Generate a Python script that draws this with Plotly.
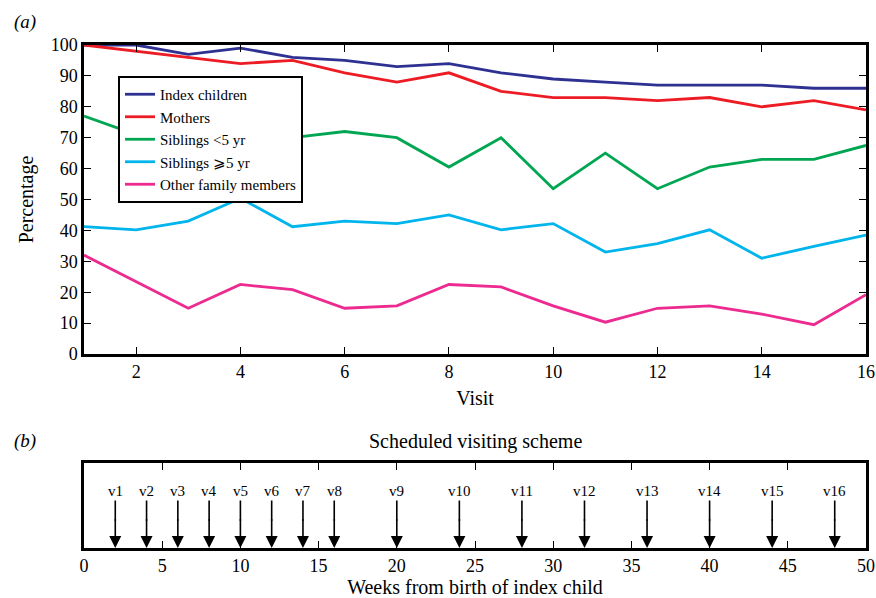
import plotly.graph_objects as go

visits = list(range(1, 17))
index_children = [100, 100, 97, 99, 96, 95, 93, 94, 91, 89, 88, 87, 87, 87, 86, 86]
mothers = [100, 98, 96, 94, 95, 91, 88, 91, 85, 83, 83, 82, 83, 80, 82, 79]
siblings_lt5 = [77, 71, 67, 70, 70, 72, 70, 60.5, 70, 53.5, 65, 53.5, 60.5, 63, 63, 67.5]
siblings_ge5 = [41.2, 40.2, 43, 50.4, 41.2, 43, 42.2, 45, 40.2, 42.2, 33, 35.7, 40.2, 31, 34.8, 38.5]
other_family = [32, 23.4, 14.8, 22.5, 20.8, 14.8, 15.6, 22.5, 21.7, 15.6, 10.3, 14.8, 15.6, 12.9, 9.5, 19.2]

series_names = ["Index children", "Mothers", "Siblings <5 yr", "Siblings \u2a7e5 yr", "Other family members"]
series_values = [index_children, mothers, siblings_lt5, siblings_ge5, other_family]
series_colors = ["#2e3192", "#ed1c24", "#00a651", "#00b4ec", "#ec2a8f"]

visit_labels = ["v%d" % i for i in range(1, 17)]
visit_weeks = [2, 4, 6, 8, 10, 12, 14, 16, 20, 24, 28, 32, 36, 40, 44, 48]

FONT = "Times New Roman, Liberation Serif, Times, serif"
W, H = 876, 598

fig = go.Figure()
for name, vals, col in zip(series_names, series_values, series_colors):
    fig.add_trace(go.Scatter(x=visits, y=vals, mode="lines", name=name,
                             line=dict(color=col, width=2.8), xaxis="x", yaxis="y"))

# small markers in panel b
fig.add_trace(go.Scatter(x=visit_weeks, y=[0.33] * len(visit_weeks), mode="markers",
                         marker=dict(color="#2e3192", size=2), showlegend=False,
                         xaxis="x2", yaxis="y2", hoverinfo="skip"))

for lab, wk in zip(visit_labels, visit_weeks):
    fig.add_annotation(x=wk, y=0, ax=wk, ay=0.67, xref="x2", yref="y2",
                       axref="x2", ayref="y2", text=lab, showarrow=True,
                       arrowhead=2, arrowsize=1.5, arrowwidth=1.6, arrowcolor="black",
                       font=dict(family=FONT, size=15, color="black"), standoff=0,
                       startstandoff=0)

def px(x):
    return x / W

def py(y):
    return 1 - y / H

axis_common = dict(showline=True, linecolor="black", linewidth=2.5, mirror="ticks",
                   ticks="inside", ticklen=7, tickwidth=1.2, tickcolor="black",
                   showgrid=False, zeroline=False, automargin=False,
                   tickfont=dict(family=FONT, size=18, color="black"))

fig.update_layout(
    width=W, height=H,
    margin=dict(l=0, r=0, t=0, b=0),
    paper_bgcolor="white", plot_bgcolor="white",
    font=dict(family=FONT, color="black"),
    xaxis=dict(domain=[px(84), px(866)], anchor="y", range=[1, 16], tickvals=list(range(2, 17, 2)),
               title=dict(text="Visit", font=dict(family=FONT, size=20), standoff=10), **axis_common),
    yaxis=dict(domain=[py(354), py(45)], anchor="x", range=[0, 100], tickvals=list(range(0, 101, 10)),
               title=dict(text="Percentage", font=dict(family=FONT, size=20), standoff=12), **axis_common),
    xaxis2=dict(domain=[px(84), px(866)], anchor="y2", range=[0, 50], tickvals=list(range(0, 51, 5)),
                title=dict(text="Weeks from birth of index child", font=dict(family=FONT, size=20), standoff=6),
                **axis_common),
    yaxis2=dict(domain=[py(548), py(463)], anchor="x2", range=[0, 1], showline=True, linecolor="black",
                linewidth=2.5, mirror=True, ticks="", showticklabels=False, showgrid=False, zeroline=False,
                automargin=False),
    legend=dict(x=px(118), y=py(76), xanchor="left", yanchor="top",
                bordercolor="black", borderwidth=2, bgcolor="white",
                font=dict(family=FONT, size=15, color="black"), tracegroupgap=0),
    showlegend=True,
)

fig.add_annotation(x=px(12), y=py(22), xref="paper", yref="paper", text="<i>(a)</i>",
                   showarrow=False, xanchor="left", yanchor="middle",
                   font=dict(family=FONT, size=19, color="black"))
fig.add_annotation(x=px(12), y=py(441), xref="paper", yref="paper", text="<i>(b)</i>",
                   showarrow=False, xanchor="left", yanchor="middle",
                   font=dict(family=FONT, size=19, color="black"))
fig.add_annotation(x=(px(84) + px(866)) / 2, y=py(441), xref="paper", yref="paper",
                   text="Scheduled visiting scheme", showarrow=False, xanchor="center", yanchor="middle",
                   font=dict(family=FONT, size=20, color="black"))

fig.write_html("out.html")
